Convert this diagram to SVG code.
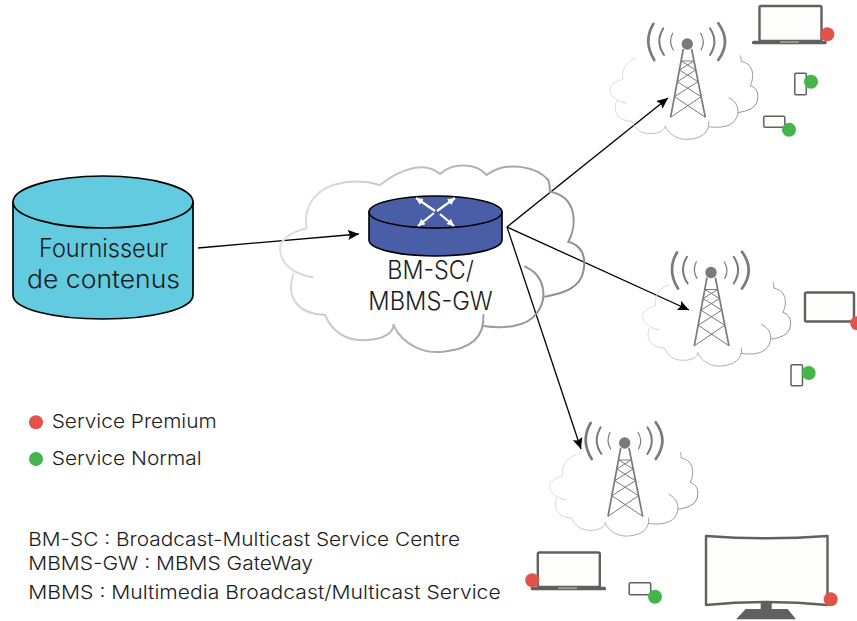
<svg xmlns="http://www.w3.org/2000/svg" xmlns:xlink="http://www.w3.org/1999/xlink" width="857" height="621" viewBox="0 0 857 621">
<style>
text{font-family:"Inter","Lato","Liberation Sans",sans-serif;font-weight:300;fill:#1c1c1c}
.big{font-size:25px}.mid{font-size:19px}
.cloud{fill:none;stroke:url(#cg);stroke-width:6;stroke-linecap:round}
.dev{fill:#fdfdfb;stroke:#606060;stroke-width:2.4;stroke-linejoin:round}
.solid{fill:#606060}
.red{fill:#e0524a}.green{fill:#45b549}
.leg{stroke:#7a7a7a;stroke-width:1.7;fill:none}
.bar{stroke:#7a7a7a;stroke-width:1;fill:none}
.wave{stroke:#7a7a7a;fill:none;stroke-linecap:round}
.conn{stroke:#000;stroke-width:1.3;fill:none;marker-end:url(#arrow)}
.edge{stroke:#000;stroke-width:1.6}
</style>
<defs>
<linearGradient id="cg" gradientUnits="userSpaceOnUse" x1="30" y1="200" x2="900" y2="500">
<stop offset="0" stop-color="#e2e2e2"/><stop offset=".5" stop-color="#b5b5b5"/><stop offset="1" stop-color="#8a8a8a"/>
</linearGradient>
<marker id="arrow" markerUnits="userSpaceOnUse" markerWidth="14" markerHeight="12" refX="11" refY="5" orient="auto">
<path d="M0,0 L11,5 L0,10 L2,5 Z" fill="#000"/>
</marker>
<marker id="wa" markerUnits="userSpaceOnUse" markerWidth="9" markerHeight="8" refX="7" refY="3.5" orient="auto">
<path d="M0,0 L7,3.5 L0,7 Z" fill="#fff"/>
</marker>
<g id="cloud-low">
<path class="cloud" d="M190,105 C130,125 100,175 110,235 C70,245 30,265 30,295 C30,340 70,372 128,382"/>
<path class="cloud" d="M70,372 C50,430 70,490 165,495 C185,545 230,575 290,570 C330,568 365,555 372,525"/>
<path class="cloud" d="M370,525 C400,590 470,612 520,605 C590,598 645,570 640,495"/>
<path class="cloud" d="M640,528 C690,535 770,535 800,490 C835,445 825,375 765,350"/>
<path class="cloud" d="M825,440 C880,430 930,415 940,365 C950,320 935,285 895,275 C920,230 925,140 840,125 C840,105 838,98 835,90"/>
</g>
<g id="tower">
<path class="wave" stroke-width="2.7" d="M-34,-20 Q-44.5,-2.6 -33,16 M31,-20.7 Q44.4,-2.3 31,16"/>
<path class="wave" stroke-width="2" d="M-24,-15.7 Q-32.3,-2 -23.3,11 M22.7,-15.7 Q31.5,-2.3 22.7,11"/>
<path class="wave" stroke-width="1.2" d="M-14.7,-10.7 Q-19,-2 -14,6 M13.3,-10.7 Q18.5,-2 13.7,6"/>
<path class="leg" d="M-4,5 L-16.7,73.3 M4.3,5 L18,73.3"/>
<path class="bar" d="M-16.7,73.3 L13.8,52.7 M18,73.3 L-12.8,52.7 M-12.8,52.7 L10.7,37.7 M13.8,52.7 L-10,37.7 M-10,37.7 L8.4,26 M10.7,37.7 L-7.8,26 M-7.8,26 L6.5,17 M8.4,26 L-6,17 M-6,17 L6.5,17"/>
<circle r="5.7" fill="#7a7a7a"/>
</g>
</defs>

<g id="connectors">
<path class="conn" d="M198,248 L359,234"/>
<path class="conn" d="M507,227 L668,98"/>
<path class="conn" d="M507,227 L689,310"/>
<path class="conn" d="M507,227 L581,449"/>
</g>

<g id="cloud-main" transform="translate(270,150) scale(.3333)">
<use xlink:href="#cloud-low" href="#cloud-low"/>
<path class="cloud" d="M835,90 C800,50 710,30 650,75 C620,40 550,35 510,72 C470,35 400,50 330,105 C285,92 240,90 190,105"/>
</g>

<g id="source">
<path d="M13,202 V295 C13,309 53,319 103,319 C153,319 193,309 193,295 V202 Z" fill="#62cbe0" stroke="#000" stroke-width="1.7"/>
<ellipse cx="103" cy="202" rx="90" ry="26" fill="#62cbe0" stroke="#000" stroke-width="1.7"/>
<text class="big" x="39" y="257" textLength="129" lengthAdjust="spacingAndGlyphs">Fournisseur</text>
<text class="big" x="27" y="288" textLength="153" lengthAdjust="spacingAndGlyphs">de contenus</text>
</g>

<g id="gateway">
<path class="edge" d="M369,212 V240 C369,249 399,256 435.500,256 C472,256 502,249 502,240 V212 Z" fill="#4a5ea8"/>
<ellipse class="edge" cx="435.500" cy="212" rx="66.500" ry="16" fill="#4a5ea8"/>
<g stroke="#fff" stroke-width="2.200" marker-end="url(#wa)" fill="none">
<path d="M435,211 L416,198" marker-end="url(#wa)"/>
<path d="M437,211 L455,198" marker-end="url(#wa)"/>
<path d="M434,213 L418,226" marker-end="url(#wa)"/>
<path d="M440,214 L454,226" marker-end="url(#wa)"/>
</g>
<text class="big" x="387.300" y="279" textLength="86.700" lengthAdjust="spacingAndGlyphs">BM-SC/</text>
<text class="big" x="368.300" y="310" textLength="124.400" lengthAdjust="spacingAndGlyphs">MBMS-GW</text>
</g>

<g id="station-top">
<use xlink:href="#cloud-low" href="#cloud-low" transform="translate(605.100,41.200) scale(.162)"/>
<use xlink:href="#tower" href="#tower" transform="translate(687.300,44)"/>
</g>
<g id="station-mid">
<use xlink:href="#cloud-low" href="#cloud-low" transform="translate(637.800,267.900) scale(.162)"/>
<use xlink:href="#tower" href="#tower" transform="translate(711,272.500)"/>
</g>
<g id="station-bottom">
<use xlink:href="#cloud-low" href="#cloud-low" transform="translate(545.100,437.900) scale(.162)"/>
<use xlink:href="#tower" href="#tower" transform="translate(624.700,443)"/>
</g>

<g id="laptop-top">
<rect class="dev" x="759.500" y="6" width="62" height="35" rx="1.500"/>
<rect class="solid" x="752" y="40.700" width="74.700" height="3.600" rx="1.500"/>
<rect x="780" y="41.300" width="19" height="1.500" fill="#aaa"/>
<circle class="red" cx="827.300" cy="34.300" r="7"/>
</g>
<g id="phone-top">
<rect class="dev" x="794.800" y="73.300" width="11.500" height="21.500" rx="1.200" stroke-width="1.500" style="stroke-width:1.500"/>
<circle class="green" cx="811" cy="81.700" r="7"/>
</g>
<g id="phone-land-top">
<rect class="dev" x="763.800" y="116.200" width="21" height="11" rx="1.200" style="stroke-width:1.500"/>
<circle class="green" cx="789" cy="129.700" r="7"/>
</g>
<g id="tablet-mid">
<rect class="dev" x="805" y="292.500" width="49" height="29" rx="1.500"/>
<circle class="red" cx="857.300" cy="323.300" r="7"/>
</g>
<g id="phone-mid">
<rect class="dev" x="791" y="364.800" width="11.500" height="21" rx="1.200" style="stroke-width:1.500"/>
<circle class="green" cx="808.700" cy="373" r="7"/>
</g>
<g id="laptop-bottom">
<rect class="dev" x="537.800" y="552.500" width="62" height="34.500" rx="1.500"/>
<rect class="solid" x="530.700" y="586.700" width="75.300" height="3.600" rx="1.500"/>
<rect x="558" y="587.400" width="19" height="1.500" fill="#aaa"/>
<circle class="red" cx="532.300" cy="580.300" r="7"/>
</g>
<g id="phone-land-bottom">
<rect class="dev" x="629.200" y="582.800" width="21.500" height="12" rx="1.200" style="stroke-width:1.500"/>
<circle class="green" cx="655" cy="596.700" r="7"/>
</g>
<g id="tv">
<path class="dev" d="M706,536 Q767,540.500 827.500,536 V605 Q767,599 706,605 Z"/>
<rect class="solid" x="760.700" y="602" width="11" height="8"/>
<path class="solid" d="M745.700,609 H787.700 L796,619.300 H736 Z"/>
<circle class="red" cx="830.700" cy="599.300" r="7"/>
</g>

<g id="legend">
<circle class="red" cx="36" cy="422.300" r="7"/>
<text class="mid" x="51.700" y="428.300" textLength="165" lengthAdjust="spacingAndGlyphs">Service Premium</text>
<circle class="green" cx="36" cy="459" r="7"/>
<text class="mid" x="51.700" y="465" textLength="150" lengthAdjust="spacingAndGlyphs">Service Normal</text>
</g>
<g id="glossary">
<text class="mid" x="28.300" y="545.700" textLength="431.700" lengthAdjust="spacingAndGlyphs">BM-SC : Broadcast-Multicast Service Centre</text>
<text class="mid" x="28.300" y="570" textLength="284.700" lengthAdjust="spacingAndGlyphs">MBMS-GW : MBMS GateWay</text>
<text class="mid" x="28.300" y="599" textLength="472.400" lengthAdjust="spacingAndGlyphs">MBMS : Multimedia Broadcast/Multicast Service</text>
</g>
</svg>
